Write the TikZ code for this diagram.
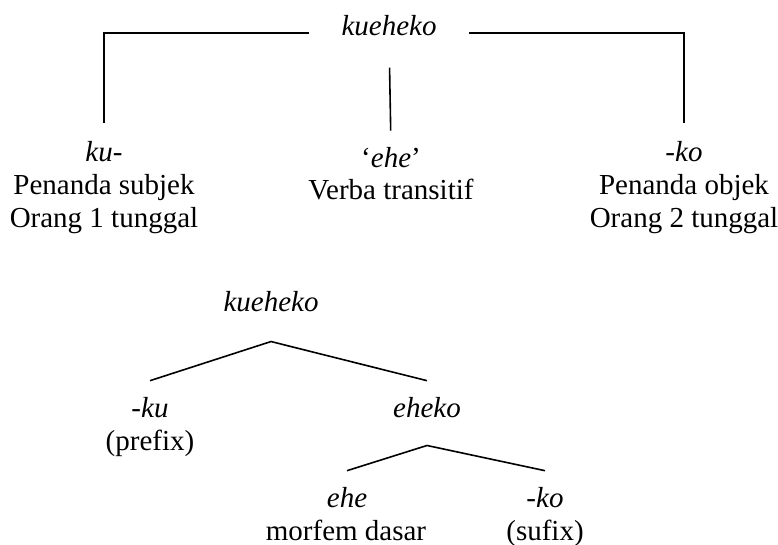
\documentclass[tikz,border=0pt]{standalone}
\usepackage{fontspec}
\setmainfont{Liberation Serif}[ItalicFont={Liberation Serif Italic}]
\begin{document}
\begin{tikzpicture}[x=1pt, y=-1pt,
  txt/.style={inner sep=0pt, anchor=base, font=\fontsize{29}{33}\selectfont},
  itxt/.style={txt, font=\fontsize{29}{33}\selectfont\itshape},
  branch/.style={draw=black, line width=1.6pt}]
\useasboundingbox (0,0) rectangle (778,545);

% ---- upper diagram: word split into its three parts
\node[itxt, inner xsep=33pt] (top) at (389,36) {kueheko};

\node[itxt] (kuA) at (104,162) {ku-};
\node[txt]  (kuB) at (104,195) {Penanda subjek};
\node[txt]  (kuC) at (104,228) {Orang 1 tunggal};

\node[txt]  (eheA) at (391,168) {‘\textit{ehe}’};
\node[txt]  (eheB) at (391,200) {Verba transitif};

\node[itxt] (koA) at (684,162) {-ko};
\node[txt]  (koB) at (684,195) {Penanda objek};
\node[txt]  (koC) at (684,228) {Orang 2 tunggal};

\draw[branch, line cap=rect, shorten >=19pt] ([yshift=3pt]top.base west) -| (kuA.north);
\draw[branch, line cap=rect, shorten >=19pt] ([yshift=3pt]top.base east) -| (koA.north);
\draw[branch, shorten <=31pt, shorten >=17pt] (top.south) -- (eheA.north);

% ---- lower diagram: binary morpheme tree
\node[itxt] (root) at (271,311) {kueheko};
\node[itxt] (pre)  at (150,417) {-ku};
\node[txt]  (preL) at (150,450) {(prefix)};
\node[itxt] (stem) at (427,417) {eheko};
\node[itxt] (base) at (347,507) {ehe};
\node[txt]  (baseL) at (346,540) {morfem dasar};
\node[itxt] (suf)  at (545,507) {-ko};
\node[txt]  (sufL) at (545,540) {(sufix)};

\draw[branch] ([yshift=16pt]pre.north) -- ([yshift=-30pt]root.south) -- ([yshift=16pt]stem.north);
\draw[branch] ([yshift=16pt]base.north) -- ([yshift=-28pt]stem.south) -- ([yshift=16pt]suf.north);
\end{tikzpicture}
\end{document}
